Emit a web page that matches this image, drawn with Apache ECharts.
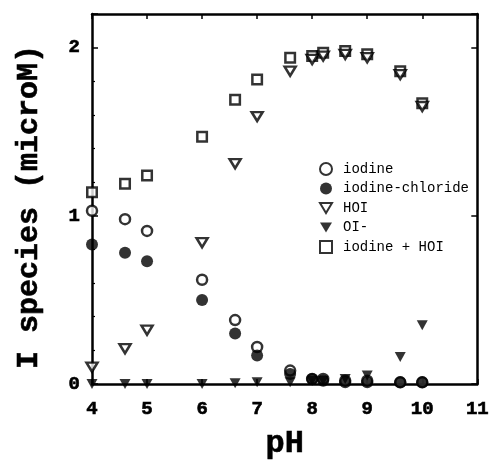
<!DOCTYPE html>
<html lang="en">
<head>
    <meta charset="utf-8">
    <title>I species vs pH</title>
    <script src="https://cdn.jsdelivr.net/npm/echarts@6/dist/echarts.min.js"></script>
    <style type="text/css">
        html, body { height: 100%; margin: 0; background: #fff; }
    </style>
</head>
<body>
    <div id="main" style="width:492px;height:466px;"></div>
    <script type="text/javascript">
        // pH of each sample
        var pH = [4.0, 4.6, 5.0, 6.0, 6.6, 7.0, 7.6, 8.0, 8.2, 8.6, 9.0, 9.6, 10.0];
        // species concentrations (microM)
        var iodine = [1.03, 0.98, 0.91, 0.62, 0.38, 0.22, 0.08, 0.03, 0.03, 0.02, 0.02, 0.01, 0.01];
        var iodineChloride = [0.83, 0.78, 0.73, 0.50, 0.30, 0.17, 0.06, 0.03, 0.02, 0.01, 0.01, 0.01, 0.01];
        var HOI = [0.10, 0.21, 0.32, 0.84, 1.31, 1.59, 1.86, 1.93, 1.95, 1.96, 1.94, 1.84, 1.65];
        var OI = [0, 0, 0, 0, 0.005, 0.01, 0.01, 0.02, 0.02, 0.03, 0.05, 0.16, 0.35];
        var iodinePlusHOI = [1.14, 1.19, 1.24, 1.47, 1.69, 1.81, 1.94, 1.95, 1.97, 1.98, 1.96, 1.86, 1.67];

        var xTicks = [4, 5, 6, 7, 8, 9, 10, 11];
        var yTicks = [0, 1, 2];

        // heavy slab-serif look for the axis text
        var monoBold = {
            fontFamily: 'Liberation Mono', fontWeight: 'bold', color: '#000',
            textBorderColor: '#000', textBorderWidth: 0.6
        };
        var downTri = 'path://M0,0L12,0L6,10Z';

        function pairs(ys) {
            return pH.map(function (x, i) { return [x, ys[i]]; });
        }

        var myChart = echarts.init(document.getElementById('main'));

        var open = { color: '#fff', borderColor: '#000', borderWidth: 2.5 };
        var filled = { color: '#000' };

        var option = {
            animation: false,
            grid: { left: 92, right: 12, top: 14, bottom: 82 },
            legend: {
                orient: 'vertical',
                left: 314,
                top: 157,
                itemWidth: 12,
                itemHeight: 12,
                itemGap: 5.5,
                textStyle: { fontFamily: 'Liberation Mono', fontSize: 14, lineHeight: 14, color: '#000',
                    padding: [0, 0, 0, 6] },
                data: [
                    { name: 'iodine', icon: 'circle' },
                    { name: 'iodine-chloride', icon: 'circle' },
                    { name: 'HOI', icon: downTri },
                    { name: 'OI-', icon: downTri },
                    { name: 'iodine + HOI', icon: 'rect' }
                ]
            },
            xAxis: [
                {
                    type: 'value', min: 4, max: 11, interval: 1,
                    name: 'pH', nameLocation: 'middle', nameGap: 44,
                    nameTextStyle: Object.assign({ fontSize: 32 }, monoBold),
                    axisLine: { lineStyle: { color: '#000', width: 2.5 } },
                    axisTick: { inside: true, length: 5, lineStyle: { color: '#000', width: 1.5 } },
                    axisLabel: Object.assign({ fontSize: 19, margin: 16,
                        formatter: function (v) { return xTicks.indexOf(v) >= 0 ? v : ''; } }, monoBold),
                    splitLine: { show: false }
                },
                {
                    type: 'value', min: 4, max: 11, interval: 1, position: 'top',
                    axisLine: { show: true, onZero: false, lineStyle: { color: '#000', width: 2.5 } },
                    axisTick: { inside: true, length: 5, lineStyle: { color: '#000', width: 1.5 } },
                    axisLabel: { show: false },
                    splitLine: { show: false }
                }
            ],
            yAxis: [
                {
                    type: 'value', min: 0, max: 2.2, interval: 1,
                    name: 'I species (microM)', nameLocation: 'middle', nameGap: 48,
                    nameTextStyle: Object.assign({ fontSize: 30, padding: [0, 16, 0, 0] }, monoBold),
                    axisLine: { show: true, lineStyle: { color: '#000', width: 2.5 } },
                    axisTick: { inside: true, length: 6, lineStyle: { color: '#000', width: 1.5 } },
                    minorTick: { show: true, splitNumber: 5, length: 3, lineStyle: { color: '#000', width: 1.2 } },
                    axisLabel: Object.assign({ fontSize: 19, margin: 12,
                        formatter: function (v) { return yTicks.indexOf(v) >= 0 ? v : ''; } }, monoBold),
                    splitLine: { show: false }
                },
                {
                    type: 'value', min: 0, max: 2.2, interval: 1, position: 'right',
                    axisLine: { show: true, onZero: false, lineStyle: { color: '#000', width: 2.5 } },
                    axisTick: { inside: true, length: 6, lineStyle: { color: '#000', width: 1.5 } },
                    axisLabel: { show: false },
                    splitLine: { show: false }
                }
            ],
            series: [
                {
                    name: 'iodine-chloride', type: 'scatter', data: pairs(iodineChloride),
                    symbol: 'circle', symbolSize: 12, itemStyle: filled, z: 3
                },
                {
                    name: 'iodine', type: 'scatter', data: pairs(iodine),
                    symbol: 'circle', symbolSize: 10, itemStyle: open, z: 2
                },
                {
                    name: 'iodine + HOI', type: 'scatter', data: pairs(iodinePlusHOI),
                    symbol: 'rect', symbolSize: 9.5, itemStyle: open, z: 2
                },
                {
                    name: 'HOI', type: 'scatter', data: pairs(HOI),
                    symbol: 'triangle', symbolRotate: 180, symbolSize: [11, 9], itemStyle: open, z: 3
                },
                {
                    name: 'OI-', type: 'scatter', data: pairs(OI), clip: false,
                    symbol: 'triangle', symbolRotate: 180, symbolSize: [11, 10], itemStyle: filled, z: 4
                }
            ]
        };

        myChart.setOption(option);
    </script>
</body>
</html>
